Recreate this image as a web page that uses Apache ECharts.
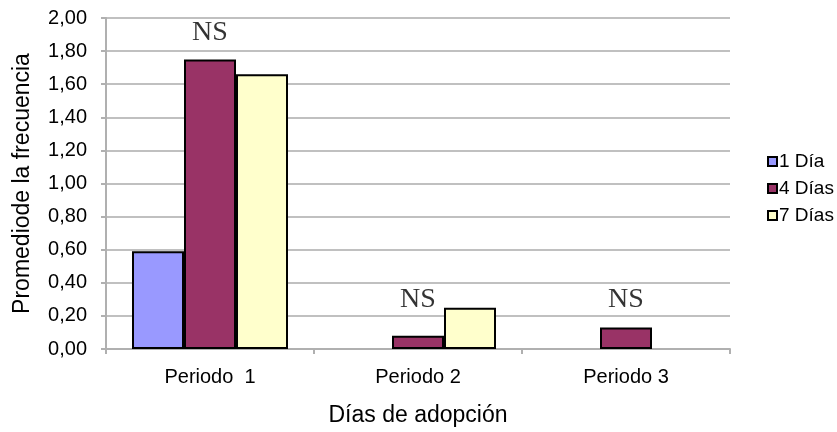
<!DOCTYPE html>
<html><head><meta charset="utf-8">
<script src="https://cdn.jsdelivr.net/npm/echarts@6/dist/echarts.min.js"></script>
<style>html,body{margin:0;padding:0;background:#fff}#c{width:837px;height:432px}</style>
</head><body><div id="c"></div>
<script>
const categories = ['Periodo  1', 'Periodo 2', 'Periodo 3'];
const seriesNames = ['1 Día', '4 Días', '7 Días'];
const dia1 = [0.59, 0, 0];
const dias4 = [1.75, 0.08, 0.13];
const dias7 = [1.66, 0.25, 0];
const nsText = ['NS', 'NS', 'NS'];
const nsY = [1.91, 0.30, 0.30];
const colors = ['#9999FF', '#993366', '#FFFFCC'];

const chart = echarts.init(document.getElementById('c'));
const barStyle = c => ({ color: c, borderColor: '#000', borderWidth: 2 });
const hideZero = arr => arr.map(v => (v === 0 ? null : v));
chart.setOption({
  animation: false,
  grid: { left: 106, right: 107, top: 18, bottom: 79 },
  legend: {
    data: seriesNames, orient: 'vertical', left: 762, top: 147,
    itemWidth: 9, itemHeight: 9, itemGap: 8,
    textStyle: { fontFamily: 'Liberation Sans', fontSize: 19, color: '#000', padding: [0,0,0,-3] },
    icon: 'rect'
  },
  xAxis: {
    type: 'category', data: categories,
    name: 'Días de adopción', nameLocation: 'middle', nameGap: 55,
    nameTextStyle: { fontFamily: 'Liberation Sans', fontSize: 23, color: '#000' },
    axisLine: { lineStyle: { color: '#b0b0b0', width: 2 } },
    axisTick: { show: true, length: 5, lineStyle: { color: '#b0b0b0', width: 2 } },
    axisLabel: { fontFamily: 'Liberation Sans', fontSize: 20, color: '#000', margin: 18 }
  },
  yAxis: {
    type: 'value', min: 0, max: 2, interval: 0.2,
    name: 'Promediode la frecuencia', nameLocation: 'middle', nameGap: 72,
    nameTextStyle: { fontFamily: 'Liberation Sans', fontSize: 23, color: '#000' },
    axisLine: { show: true, lineStyle: { color: '#b0b0b0', width: 2 } },
    axisTick: { show: true, length: 5, lineStyle: { color: '#b0b0b0', width: 2 } },
    splitLine: { lineStyle: { color: '#c0c0c0', width: 2 } },
    axisLabel: { fontFamily: 'Liberation Sans', fontSize: 20, color: '#000', margin: 19,
      formatter: v => v.toFixed(2).replace('.', ',') }
  },
  series: [
    { name: seriesNames[0], type: 'bar', data: hideZero(dia1), itemStyle: barStyle(colors[0]), barGap: '0%', barCategoryGap: '25%' },
    { name: seriesNames[1], type: 'bar', data: hideZero(dias4), itemStyle: barStyle(colors[1]), barGap: '0%', barCategoryGap: '25%' },
    { name: seriesNames[2], type: 'bar', data: hideZero(dias7), itemStyle: barStyle(colors[2]), barGap: '0%', barCategoryGap: '25%' },
    { name: 'NS', type: 'scatter', symbolSize: 0, silent: true,
      data: nsY.map((v, i) => ({ value: v, label: { formatter: nsText[i] } })),
      label: { show: true, position: 'inside', fontFamily: 'Liberation Serif', fontSize: 28, color: '#000' } }
  ]
});
</script></body></html>
